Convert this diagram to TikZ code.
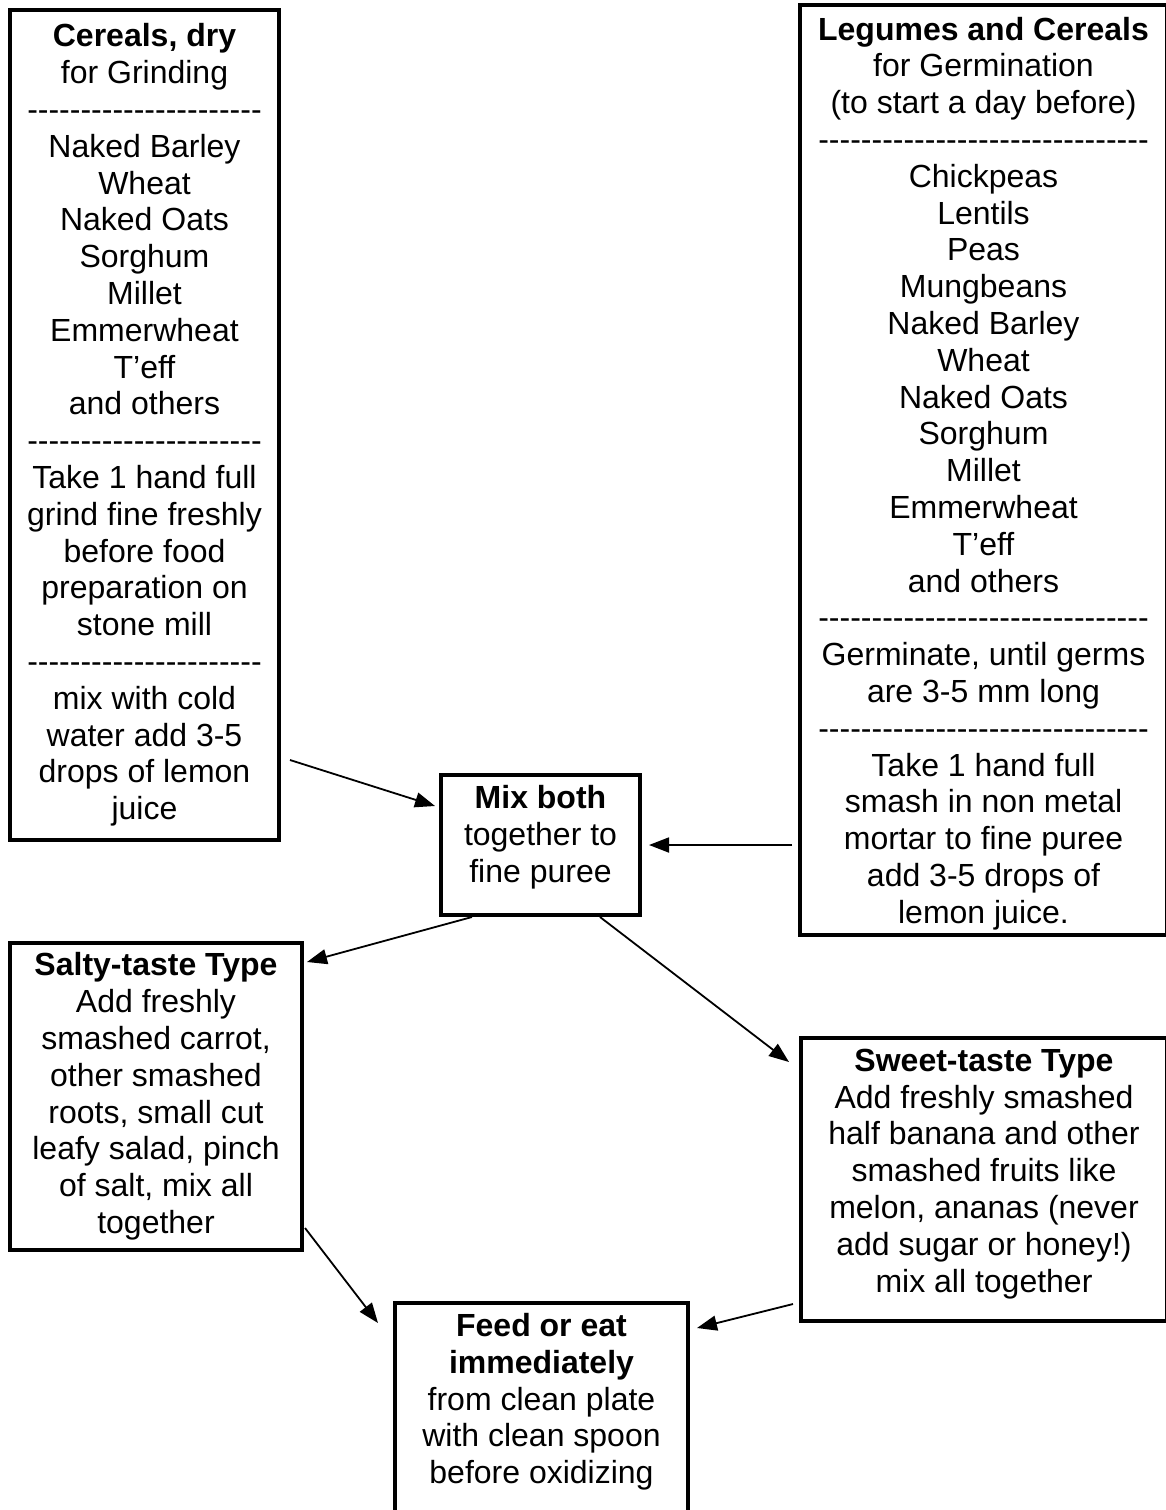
\documentclass[tikz,border=0pt]{standalone}
\usepackage{fontspec}
\setmainfont{Liberation Sans}[Ligatures=TeXOff]
\usetikzlibrary{arrows.meta}
\tikzset{
  recipebox/.style={draw, line width=4pt, outer sep=0pt, inner sep=0pt, align=center,
    anchor=north west, font=\fontsize{32}{36.8}\selectfont},
  flowarrow/.style={line width=1.8pt, -{Triangle[length=20pt,width=15pt]}}
}
\begin{document}
\begin{tikzpicture}[x=1pt,y=-1pt]
  \useasboundingbox (0,0) rectangle (1166,1510);
  % the two grain boxes on top
  \node[recipebox, minimum width=269pt, minimum height=830pt] (cereals) at (10,10)
    {\textbf{Cereals, dry}\\for Grinding\\----------------------\\Naked Barley\\Wheat\\Naked Oats\\Sorghum\\Millet\\Emmerwheat\\T’eff\\and others\\----------------------\\Take 1 hand full\\grind fine freshly\\before food\\preparation on\\stone mill\\----------------------\\mix with cold\\water add 3-5\\drops of lemon\\juice};
  \node[recipebox, minimum width=367pt, minimum height=930pt, text depth=0pt] (legumes) at (800,5)
    {\textbf{Legumes and Cereals}\\for Germination\\(to start a day before)\\-------------------------------\\Chickpeas\\Lentils\\Peas\\Mungbeans\\Naked Barley\\Wheat\\Naked Oats\\Sorghum\\Millet\\Emmerwheat\\T’eff\\and others\\-------------------------------\\Germinate, until germs\\are 3-5 mm long\\-------------------------------\\Take 1 hand full\\smash in non metal\\mortar to fine puree\\add 3-5 drops of\\lemon juice.};
  \node[recipebox, minimum width=199pt, minimum height=140pt, text depth=22pt] (mix) at (441,775)
    {\textbf{Mix both}\\together to\\fine puree};
  % the two tastes
  \node[recipebox, minimum width=292pt, minimum height=307pt] (salty) at (10,943)
    {\textbf{Salty-taste Type}\\Add freshly\\smashed carrot,\\other smashed\\roots, small cut\\leafy salad, pinch\\of salt, mix all\\together};
  \node[recipebox, minimum width=366pt, minimum height=283pt, text depth=18pt] (sweet) at (801,1038)
    {\textbf{Sweet-taste Type}\\Add freshly smashed\\half banana and other\\smashed fruits like\\melon, ananas (never\\add sugar or honey!)\\mix all together};
  \node[recipebox, minimum width=293pt, minimum height=227pt, text depth=36pt] (feed) at (395,1303)
    {\textbf{Feed or eat}\\\textbf{immediately}\\from clean plate\\with clean spoon\\before oxidizing};
  % arrows
  \draw[flowarrow] ([shift={(11,-80)}]cereals.south east) -- ([shift={(-6,-39)}]mix.west);
  \draw[flowarrow] ([shift={(-8,-90)}]legumes.south west) -- ([shift={(9,0)}]mix.east);
  \draw[flowarrow] ([shift={(31,2)}]mix.south west) -- ([shift={(5,19)}]salty.north east);
  \draw[flowarrow] ([shift={(-40,2)}]mix.south east) -- ([shift={(-12,24)}]sweet.north west);
  \draw[flowarrow] ([shift={(3,-22)}]salty.south east) -- ([shift={(-17,20)}]feed.north west);
  \draw[flowarrow] ([shift={(-8,-17)}]sweet.south west) -- ([shift={(9,25)}]feed.north east);
\end{tikzpicture}
\end{document}
